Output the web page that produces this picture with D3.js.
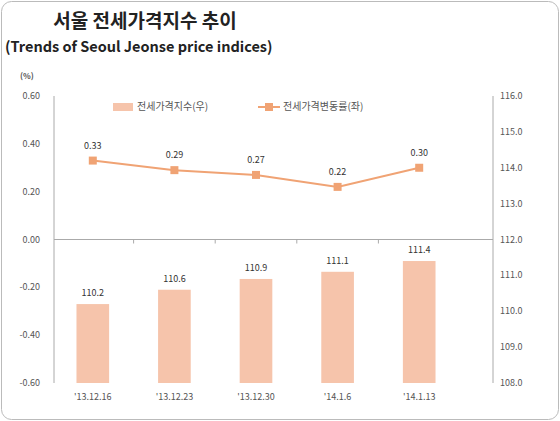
<!DOCTYPE html><html><head><meta charset="utf-8"><script src="https://cdn.jsdelivr.net/npm/d3@7"></script>
<style>body{margin:0;background:#fff}text{font-family:"Noto Sans CJK KR","Noto Sans",sans-serif}</style></head><body><svg id="c" width="560" height="421"></svg>
<script>
const categories=["'13.12.16","'13.12.23","'13.12.30","'14.1.6","'14.1.13"];
const indexValues=[110.2,110.6,110.9,111.1,111.4];
const changeValues=[0.33,0.29,0.27,0.22,0.30];
const leftTicks=[0.6,0.4,0.2,0,-0.2,-0.4,-0.6];
const rightTicks=[116,115,114,113,112,111,110,109,108];
const svg=d3.select("#c");
svg.append("rect").attr("x",1.5).attr("y",1.5).attr("width",557).attr("height",418).attr("rx",10).attr("fill","#fff").attr("stroke","#bbb");
svg.append("text").attr("x",145).attr("y",28).attr("text-anchor","middle").attr("font-size",19).attr("font-weight","bold").attr("fill","#222").text("서울 전세가격지수 추이");
svg.append("text").attr("x",5).attr("y",52).attr("font-size",14.5).attr("font-weight","bold").attr("fill","#222").attr("font-family","Liberation Sans, sans-serif").text("(Trends of Seoul Jeonse price indices)");
const x=d3.scaleBand().domain(categories).range([52,460]).paddingInner(0.6).paddingOuter(0.3);
const yL=d3.scaleLinear().domain([-0.6,0.6]).range([383,96]);
const yR=d3.scaleLinear().domain([108,116]).range([383,96]);
const grey="#555",fs=9;
svg.append("line").attr("x1",54).attr("x2",54).attr("y1",96).attr("y2",383).attr("stroke","#aaa");
svg.append("line").attr("x1",493).attr("x2",493).attr("y1",96).attr("y2",383).attr("stroke","#aaa");
leftTicks.forEach(t=>svg.append("text").attr("x",40).attr("y",yL(t)+3).attr("text-anchor","end").attr("font-size",fs).attr("fill",grey).text(d3.format(".2f")(t).replace("−","-")));
rightTicks.forEach(t=>svg.append("text").attr("x",500).attr("y",yR(t)+3).attr("font-size",fs).attr("fill",grey).text(d3.format(".1f")(t)));
svg.append("text").attr("x",20).attr("y",79).attr("font-size",8).attr("font-weight","bold").attr("fill",grey).text("(%)");
svg.selectAll(".b").data(indexValues).enter().append("rect").attr("x",(d,i)=>x(categories[i])).attr("width",x.bandwidth()).attr("y",d=>yR(d)).attr("height",d=>383-yR(d)).attr("fill","#f6c4ab");
svg.selectAll(".bl").data(indexValues).enter().append("text").attr("x",(d,i)=>x(categories[i])+x.bandwidth()/2).attr("y",d=>yR(d)-8).attr("text-anchor","middle").attr("font-size",fs).attr("fill","#333").text(d=>d.toFixed(1));
svg.append("line").attr("x1",54).attr("x2",493).attr("y1",yL(0)).attr("y2",yL(0)).attr("stroke","#aaa");
categories.slice(1).forEach(c=>{const xx=x(c)-x.step()*x.paddingInner()/2;svg.append("line").attr("x1",xx).attr("x2",xx).attr("y1",yL(0)).attr("y2",yL(0)+4).attr("stroke","#aaa");});
categories.forEach(c=>svg.append("text").attr("x",x(c)+x.bandwidth()/2).attr("y",400).attr("text-anchor","middle").attr("font-size",fs).attr("fill",grey).text(c));
const cx=i=>x(categories[i])+x.bandwidth()/2;
svg.append("path").datum(changeValues).attr("d",d3.line().x((d,i)=>cx(i)).y(d=>yL(d))).attr("fill","none").attr("stroke","#f0a374").attr("stroke-width",2);
svg.selectAll(".m").data(changeValues).enter().append("rect").attr("x",(d,i)=>cx(i)-4).attr("y",d=>yL(d)-4).attr("width",8).attr("height",8).attr("fill","#f0a374");
svg.selectAll(".ml").data(changeValues).enter().append("text").attr("x",(d,i)=>cx(i)).attr("y",d=>yL(d)-12).attr("text-anchor","middle").attr("font-size",fs).attr("fill","#333").text(d=>d.toFixed(2));
svg.append("rect").attr("x",113).attr("y",103).attr("width",20).attr("height",8).attr("fill","#f6c4ab");
svg.append("text").attr("x",137).attr("y",110).attr("font-size",10).attr("fill",grey).text("전세가격지수(우)");
svg.append("line").attr("x1",258).attr("x2",280).attr("y1",107).attr("y2",107).attr("stroke","#f0a374").attr("stroke-width",2);
svg.append("rect").attr("x",265).attr("y",103).attr("width",8).attr("height",8).attr("fill","#f0a374");
svg.append("text").attr("x",283).attr("y",110).attr("font-size",10).attr("fill",grey).text("전세가격변동률(좌)");
</script></body></html>
